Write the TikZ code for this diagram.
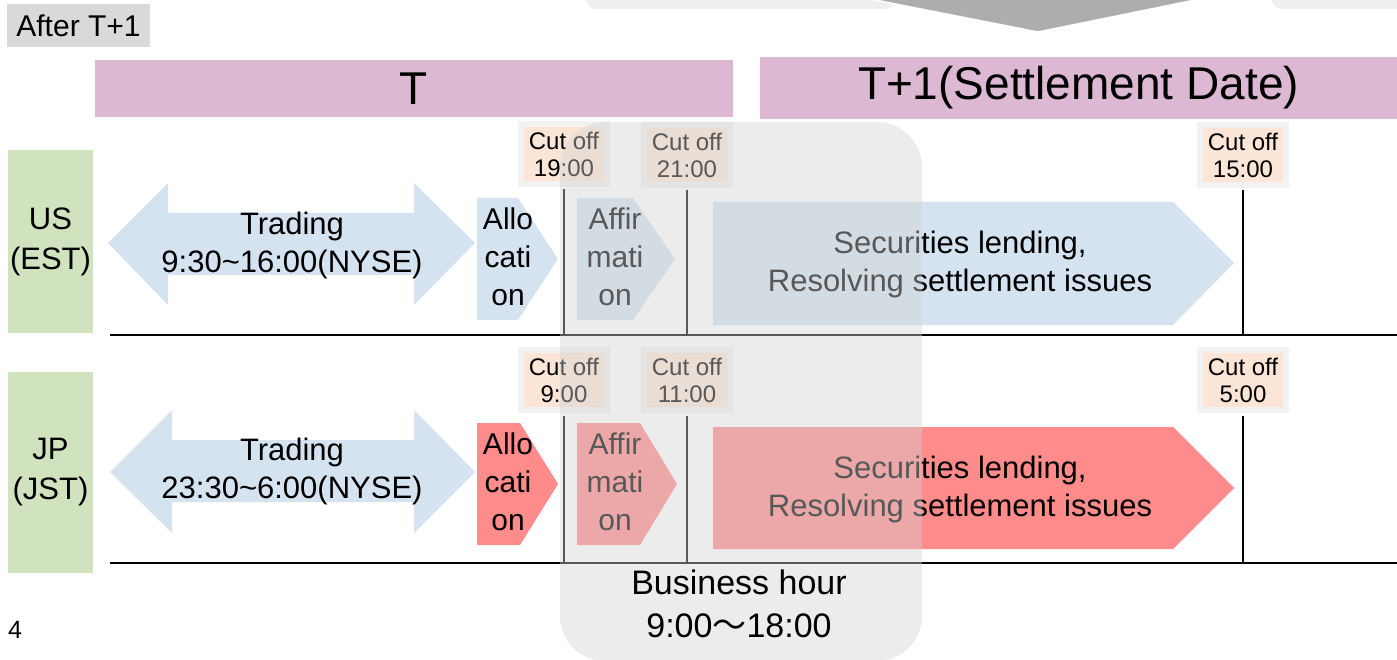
\documentclass[tikz,border=0pt]{standalone}
\usepackage{fontspec}
\setmainfont{Liberation Sans}
\newfontfamily\cjk{Noto Sans CJK JP}
\usepackage{xcolor}
\usepackage{tikz}
\usetikzlibrary{positioning,calc}

\definecolor{barpink}{RGB}{220,184,210}
\definecolor{zonegreen}{RGB}{208,226,190}
\definecolor{lightblue}{RGB}{213,227,240}
\definecolor{lightred}{RGB}{255,139,139}
\definecolor{peach}{RGB}{251,229,214}
\definecolor{boxgrey}{RGB}{242,242,242}
\definecolor{taggrey}{RGB}{217,217,217}
\definecolor{hourgrey}{RGB}{210,210,210}
\definecolor{topgrey}{RGB}{239,239,239}
\definecolor{chevgrey}{RGB}{173,173,173}

\begin{document}
\begin{tikzpicture}[x=1pt, y=-1pt,
    bar/.style={rectangle, fill=barpink, inner sep=0pt, font=\fontsize{46}{50}\selectfont},
    zone/.style={rectangle, fill=zonegreen, minimum width=85pt, inner sep=0pt, align=center, font=\fontsize{31}{40}\selectfont},
    cutoff/.style={rectangle, fill=peach, draw=boxgrey, line width=5.5pt, minimum width=86pt, minimum height=60pt, inner sep=0pt, align=center, font=\fontsize{24}{27}\selectfont},
    txt/.style={align=center, inner sep=0pt, font=\fontsize{31}{38}\selectfont},
    shorttxt/.style={align=center, inner sep=0pt, font=\fontsize{30}{38}\selectfont}]
    \useasboundingbox (0,0) rectangle (1397,660);

    % pieces of the slide above
    \fill[topgrey, rounded corners=10pt] (586,-20) rectangle (895,9);
    \fill[topgrey, rounded corners=10pt] (1272,-20) rectangle (1420,9);
    \filldraw[fill=chevgrey, draw=white, line width=1.5pt] (865,-2) -- (1038,32) -- (1205,-2) -- cycle;

    \node (afterbox) [rectangle, fill=taggrey, minimum width=143pt, minimum height=43pt, inner sep=0pt, font=\fontsize{30}{34}\selectfont] at (78.5,25.5) {After T+1};
    \node (tbar) [bar, minimum width=638pt, minimum height=57pt] at (414,88.5) {T};
    \node (tonebar) [bar, minimum width=637pt, minimum height=62pt] at (1078.5,88) {T+1(Settlement Date)};

    \node (usbox) [zone, minimum height=183pt] at (50.5,241.5) {US\\(EST)};
    \node (jpbox) [zone, minimum height=201pt] at (50.5,472.5) {JP\\(JST)};

    % US row
    \fill[lightblue] (108,243) -- (168,183) -- (168,213) -- (414,213) -- (414,183) -- (475,243)
        -- (414,305) -- (414,275) -- (168,275) -- (168,305) -- cycle;
    \fill[lightblue] (477,198) -- (518,198) -- (558,259) -- (518,320) -- (477,320) -- cycle;
    \fill[lightblue] (577,198) -- (633,198) -- (675,259) -- (633,320) -- (577,320) -- cycle;
    \fill[lightblue] (713,202) -- (1173,202) -- (1234,263) -- (1173,325) -- (713,325) -- cycle;
    \node (ustrade) [txt] at (292,245) {Trading\\9:30\textasciitilde16:00(NYSE)};
    \node (usalloc) [shorttxt] at (508,257) {Allo\\cati\\on};
    \node (usaffirm) [shorttxt] at (615,257) {Affir\\mati\\on};
    \node (uslend) [txt] at (960,264) {Securities lending,\\Resolving settlement issues};

    % JP row
    \fill[lightblue] (110,472) -- (172,410) -- (172,440) -- (414,440) -- (414,410) -- (475,472)
        -- (414,533) -- (414,502) -- (172,502) -- (172,533) -- cycle;
    \fill[lightred] (477,423) -- (520,423) -- (558,484) -- (520,545) -- (477,545) -- cycle;
    \fill[lightred] (577,423) -- (640,423) -- (677,484) -- (640,545) -- (577,545) -- cycle;
    \fill[lightred] (713,427) -- (1173,427) -- (1234,488) -- (1173,549) -- (713,549) -- cycle;
    \node (jptrade) [txt] at (292,471) {Trading\\23:30\textasciitilde6:00(NYSE)};
    \node (jpalloc) [shorttxt] at (508,482) {Allo\\cati\\on};
    \node (jpaffirm) [shorttxt] at (615,482) {Affir\\mati\\on};
    \node (jplend) [txt] at (960,489) {Securities lending,\\Resolving settlement issues};

    \coordinate (usL) at (110,335);
    \coordinate (usR) at (1397,335);
    \coordinate (jpL) at (110,563);
    \coordinate (jpR) at (1397,563);
    \draw[line width=2pt] (usL) -- (usR);
    \draw[line width=2pt] (jpL) -- (jpR);

    \node (cut19) [cutoff] at (564,154) {Cut off\\19:00};
    \node (cut21) [cutoff] at (687,155) {Cut off\\21:00};
    \node (cut15) [cutoff] at (1243,155) {Cut off\\15:00};
    \node (cut9) [cutoff] at (564,380) {Cut off\\9:00};
    \node (cut11) [cutoff] at (687,380) {Cut off\\11:00};
    \node (cut5) [cutoff] at (1243,380) {Cut off\\5:00};

    \draw[line width=2pt, shorten <=2.75pt] (cut19) -- (cut19 |- usL);
    \draw[line width=2pt, shorten <=2.75pt] (cut21) -- (cut21 |- usL);
    \draw[line width=2pt, shorten <=2.75pt] (cut15) -- (cut15 |- usL);
    \draw[line width=2pt, shorten <=2.75pt] (cut9) -- (cut9 |- jpL);
    \draw[line width=2pt, shorten <=2.75pt] (cut11) -- (cut11 |- jpL);
    \draw[line width=2pt, shorten <=2.75pt] (cut5) -- (cut5 |- jpL);

    % business hour band
    \fill[hourgrey, opacity=.42, rounded corners=45pt] (560,122) rectangle (922,661);
    \node (hours) [align=center, inner sep=0pt, font=\fontsize{34}{43}\selectfont] at (739,604) {Business hour\\9:00{\cjk 〜}18:00};

    \node (pagenum) [inner sep=0pt, font=\fontsize{25}{27}\selectfont] at (15,630) {4};
\end{tikzpicture}
\end{document}
